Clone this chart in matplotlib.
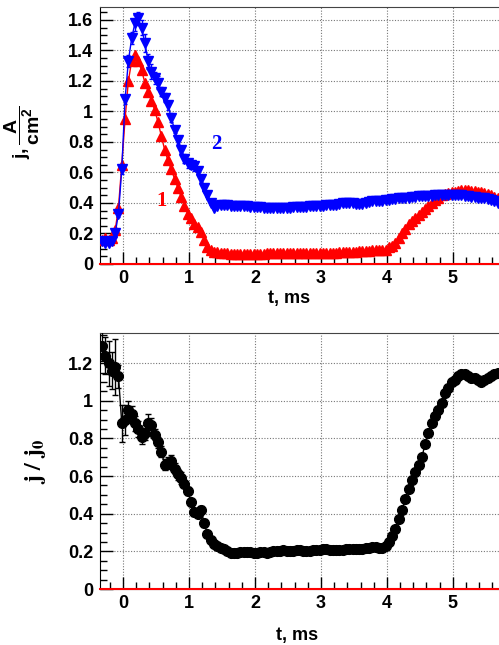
import numpy as np
import matplotlib.pyplot as plt
from matplotlib.ticker import MultipleLocator

plt.rcParams['font.family'] = ['Liberation Sans', 'DejaVu Sans']
plt.rcParams['mathtext.fontset'] = 'custom'
plt.rcParams['mathtext.rm'] = 'Liberation Sans:bold'
plt.rcParams['mathtext.bf'] = 'Liberation Sans:bold'
plt.rcParams['mathtext.it'] = 'Liberation Sans:bold'

# time grid, ms (points every 0.05 ms)
t = np.round(np.arange(-0.32, 5.70, 0.05), 2)

# current density j, A/cm^2 -- curve 1 (red) and curve 2 (blue)
j1 = [0.16, 0.17, 0.16, 0.17, 0.22, 0.37, 0.65, 0.95, 1.20, 1.33,
      1.37, 1.33, 1.27, 1.19, 1.13, 1.07, 1.01, 0.93, 0.84, 0.75,
      0.68, 0.62, 0.56, 0.50, 0.44, 0.38, 0.33, 0.30, 0.26, 0.24,
      0.21, 0.16, 0.11, 0.09, 0.08, 0.08, 0.075, 0.07, 0.07, 0.065,
      0.065, 0.065, 0.065, 0.065, 0.065, 0.065, 0.065, 0.065, 0.065, 0.065,
      0.07, 0.07, 0.07, 0.07, 0.07, 0.07, 0.07, 0.07, 0.07, 0.07,
      0.07, 0.07, 0.07, 0.07, 0.07, 0.07, 0.07, 0.075, 0.075, 0.075,
      0.075, 0.075, 0.08, 0.08, 0.08, 0.08, 0.08, 0.08, 0.085, 0.085,
      0.085, 0.085, 0.09, 0.09, 0.09, 0.09, 0.095, 0.11, 0.12, 0.14,
      0.17, 0.20, 0.23, 0.26, 0.28, 0.30, 0.32, 0.34, 0.36, 0.38,
      0.40, 0.42, 0.43, 0.45, 0.46, 0.465, 0.47, 0.475, 0.48, 0.485,
      0.485, 0.485, 0.48, 0.48, 0.475, 0.47, 0.465, 0.46, 0.45, 0.44,
      0.43]
j2 = [0.15, 0.14, 0.14, 0.15, 0.20, 0.33, 0.62, 1.08, 1.33, 1.48,
      1.58, 1.61, 1.55, 1.45, 1.33, 1.26, 1.22, 1.19, 1.13, 1.09,
      1.04, 0.96, 0.88, 0.81, 0.75, 0.69, 0.66, 0.65, 0.64, 0.61,
      0.56, 0.50, 0.45, 0.40, 0.37, 0.38, 0.385, 0.385, 0.385, 0.38,
      0.38, 0.38, 0.38, 0.38, 0.38, 0.375, 0.375, 0.375, 0.375, 0.37,
      0.37, 0.37, 0.37, 0.365, 0.365, 0.37, 0.37, 0.37, 0.375, 0.375,
      0.375, 0.375, 0.375, 0.38, 0.38, 0.38, 0.38, 0.38, 0.385, 0.39,
      0.39, 0.39, 0.395, 0.40, 0.40, 0.40, 0.40, 0.395, 0.395, 0.395,
      0.40, 0.405, 0.41, 0.41, 0.415, 0.415, 0.42, 0.42, 0.425, 0.425,
      0.43, 0.43, 0.435, 0.435, 0.44, 0.44, 0.445, 0.445, 0.445, 0.445,
      0.445, 0.45, 0.45, 0.45, 0.45, 0.455, 0.455, 0.45, 0.45, 0.45,
      0.445, 0.445, 0.44, 0.44, 0.435, 0.43, 0.43, 0.425, 0.42, 0.41,
      0.40]
# error bars (visible only during the first ~1.5 ms)
e1 = [0.01, 0.01, 0.01, 0.01, 0.01, 0.02, 0.02, 0.02, 0.03, 0.03,
      0.03, 0.03, 0.02, 0.02, 0.02, 0.02, 0.02, 0.02, 0.02, 0.02,
      0.02, 0.01, 0.01, 0.01, 0.01, 0.01, 0.01, 0.01, 0.01, 0.01] + [0.005] * 91
e2 = [0.01, 0.01, 0.01, 0.01, 0.02, 0.02, 0.03, 0.03, 0.04, 0.04,
      0.05, 0.04, 0.05, 0.06, 0.05, 0.05, 0.04, 0.04, 0.03, 0.03,
      0.03, 0.03, 0.02, 0.02, 0.02, 0.03, 0.03, 0.03, 0.03, 0.02,
      0.02, 0.02, 0.01, 0.01, 0.01] + [0.005] * 86

# ratio j / j0
r = [1.29, 1.24, 1.20, 1.16, 1.18, 1.13, 0.88, 0.90, 0.95, 0.93,
     0.88, 0.85, 0.81, 0.83, 0.88, 0.87, 0.82, 0.78, 0.73, 0.66,
     0.67, 0.68, 0.64, 0.61, 0.59, 0.56, 0.52, 0.46, 0.41, 0.40,
     0.42, 0.35, 0.29, 0.26, 0.24, 0.23, 0.22, 0.21, 0.20, 0.19,
     0.19, 0.19, 0.195, 0.195, 0.195, 0.195, 0.19, 0.19, 0.195, 0.195,
     0.19, 0.195, 0.20, 0.20, 0.20, 0.205, 0.20, 0.20, 0.20, 0.205,
     0.205, 0.20, 0.20, 0.20, 0.205, 0.205, 0.205, 0.21, 0.21, 0.205,
     0.205, 0.205, 0.205, 0.205, 0.21, 0.21, 0.21, 0.21, 0.215, 0.215,
     0.22, 0.22, 0.225, 0.225, 0.22, 0.22, 0.23, 0.25, 0.28, 0.32,
     0.37, 0.42, 0.48, 0.53, 0.58, 0.62, 0.66, 0.70, 0.77, 0.83,
     0.88, 0.92, 0.95, 0.99, 1.04, 1.07, 1.10, 1.11, 1.13, 1.14,
     1.14, 1.13, 1.12, 1.12, 1.11, 1.10, 1.11, 1.12, 1.13, 1.14,
     1.15]
er = [0.08, 0.10, 0.12, 0.10, 0.15, 0.06, 0.10, 0.08, 0.05, 0.04,
      0.04, 0.04, 0.04, 0.04, 0.05, 0.04, 0.03, 0.03, 0.03, 0.03,
      0.03, 0.03, 0.03, 0.03, 0.03, 0.02, 0.02, 0.02, 0.02, 0.02,
      0.02, 0.02, 0.01, 0.01, 0.01] + [0.005] * 86


def style_axes(ax, ymax):
    ax.set_xlim(-0.35, 5.7)
    ax.set_ylim(0, ymax)
    ax.xaxis.set_major_locator(MultipleLocator(1))
    ax.xaxis.set_minor_locator(MultipleLocator(0.2))
    ax.yaxis.set_major_locator(MultipleLocator(0.2))
    ax.yaxis.set_minor_locator(MultipleLocator(0.05))
    ax.tick_params(which='both', direction='in', top=False, right=False,
                   labelsize=13, width=1)
    ax.tick_params(which='major', length=9)
    ax.tick_params(which='minor', length=5)
    ax.tick_params(axis='x', pad=4)
    ax.tick_params(axis='y', pad=5)
    for lab in ax.get_xticklabels() + ax.get_yticklabels():
        lab.set_fontweight('bold')
    ax.yaxis.set_major_formatter(plt.FuncFormatter(lambda v, p: '%g' % round(v, 2)))
    ax.grid(True, which='major', color='#777777', linestyle=(0, (1, 1.5)), lw=0.8)
    ax.spines['right'].set_visible(False)
    ax.spines['top'].set_color('#444444')
    ax.axhline(0, color='red', lw=1.5, zorder=5, clip_on=False)
    ax.set_xlabel('t, ms', fontsize=13, fontweight='bold')
    ax.xaxis.set_label_coords(0.475, -0.1)


fig = plt.figure(figsize=(4.99, 6.45), dpi=100)

# upper panel: current density
ax1 = fig.add_axes([0.2004, 0.5907, 0.7996, 0.3984])
ax1.errorbar(t, j1, yerr=e1, color='red', marker='^', ms=7.5, lw=1,
             elinewidth=1, capsize=0, zorder=3)
ax1.errorbar(t, j2, yerr=e2, color='blue', marker='v', ms=7.5, lw=1,
             elinewidth=1, capsize=1.5, zorder=4)
style_axes(ax1, 1.685)
ax1.text(0.59, 0.41, '1', color='red', fontsize=15, fontweight='bold',
         family='Liberation Serif', ha='center', va='center')
ax1.text(1.42, 0.79, '2', color='blue', fontsize=15, fontweight='bold',
         family='Liberation Serif', ha='center', va='center')
ax1.set_ylabel(r'$\mathrm{j,}\dfrac{\mathrm{A}}{\mathrm{cm}^{2}}$', fontsize=14)
ax1.yaxis.set_label_coords(-0.145, 0.51)

# lower panel: normalised current
ax2 = fig.add_axes([0.2004, 0.0868, 0.7996, 0.3969])
ax2.errorbar(t, r, yerr=er, color='black', marker='o', ms=7, lw=1,
             elinewidth=1, capsize=2, zorder=3)
style_axes(ax2, 1.36)
ax2.set_ylabel(r'$\mathbf{j\ /\ j_0}$', fontsize=17, math_fontfamily='stix')
ax2.yaxis.set_label_coords(-0.13, 0.5)
ax2.xaxis.set_label_coords(0.495, -0.15)

fig.savefig('out.png', dpi=100)
